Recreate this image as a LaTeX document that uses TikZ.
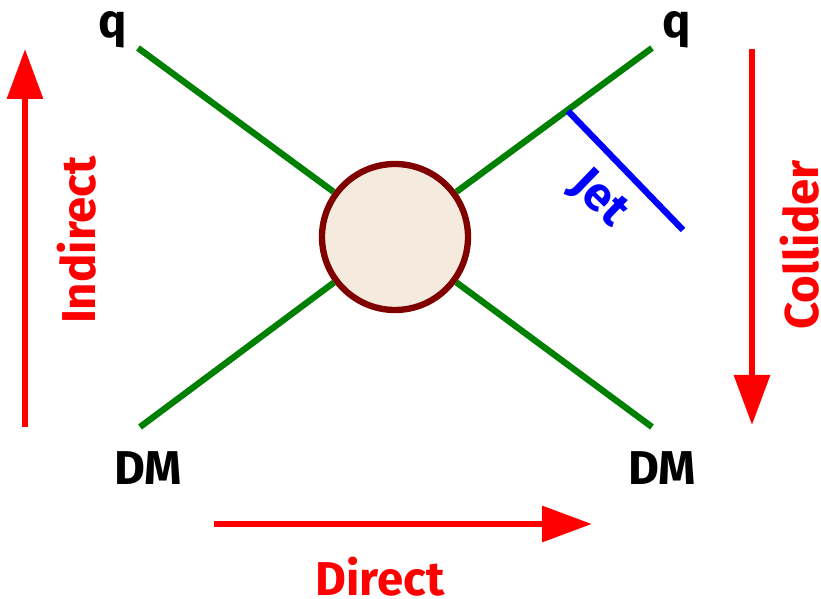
\documentclass[tikz,border=0pt]{standalone}
\usepackage{fontspec}
\setmainfont{Fira Sans}
\usetikzlibrary{arrows.meta}
\definecolor{linegreen}{RGB}{0,128,0}
\definecolor{blobfill}{RGB}{244,235,222}
\definecolor{blobedge}{RGB}{128,0,0}
\tikzset{
    leg/.style={line width=3.6pt, draw=linegreen},
    bigarrow/.style={line width=3.6pt, red, -{Triangle[length=1cm, width=0.7cm]}},
    lbl/.style={font=\fontsize{27}{30}\selectfont\bfseries},
    redlbl/.style={lbl, text=red}
}
\begin{document}
\begin{tikzpicture}

\useasboundingbox (0,0) rectangle (16.42,11.98);

% Extremites des pattes
\coordinate (qL) at (2.76,11.02);
\coordinate (qR) at (13.04,11.02);
\coordinate (dmL) at (2.8,3.44);
\coordinate (dmR) at (13.04,3.44);

% Vertex central
\node[circle, minimum size=2.92cm, inner sep=0pt, line width=3.6pt, draw=blobedge, fill=blobfill] (blob) at (7.9,7.24) {};

\draw[leg] (qL) -- (blob);
\draw[leg] (qR) -- (blob);
\draw[leg] (dmL) -- (blob);
\draw[leg] (dmR) -- (blob);

% Jet
\coordinate (jetA) at (11.36,9.76);
\coordinate (jetB) at (13.66,7.38);
\draw[line width=3.6pt, blue] (jetA) -- (jetB);
\node[lbl, text=blue, rotate=-44] (jet) at (11.98,8.0) {Jet};

% Particules
\node[lbl] (qLtxt) at (2.26,11.38) {q};
\node[lbl] (qRtxt) at (13.54,11.38) {q};
\node[lbl] (dmLtxt) at (2.96,2.62) {DM};
\node[lbl] (dmRtxt) at (13.24,2.62) {DM};

% Canaux de detection
\coordinate (indA) at (0.5,3.44);
\coordinate (indB) at (0.5,11.0);
\draw[bigarrow] (indA) -- (indB);
\node[redlbl, rotate=90] (indirect) at (1.54,7.18) {Indirect};

\coordinate (colA) at (15.04,11.0);
\coordinate (colB) at (15.04,3.48);
\draw[bigarrow] (colA) -- (colB);
\node[redlbl, rotate=90] (collider) at (16.0,7.08) {Collider};

\coordinate (dirA) at (4.28,1.5);
\coordinate (dirB) at (11.84,1.5);
\draw[bigarrow] (dirA) -- (dirB);
\node[redlbl] (direct) at (7.6,0.44) {Direct};

\end{tikzpicture}
\end{document}
